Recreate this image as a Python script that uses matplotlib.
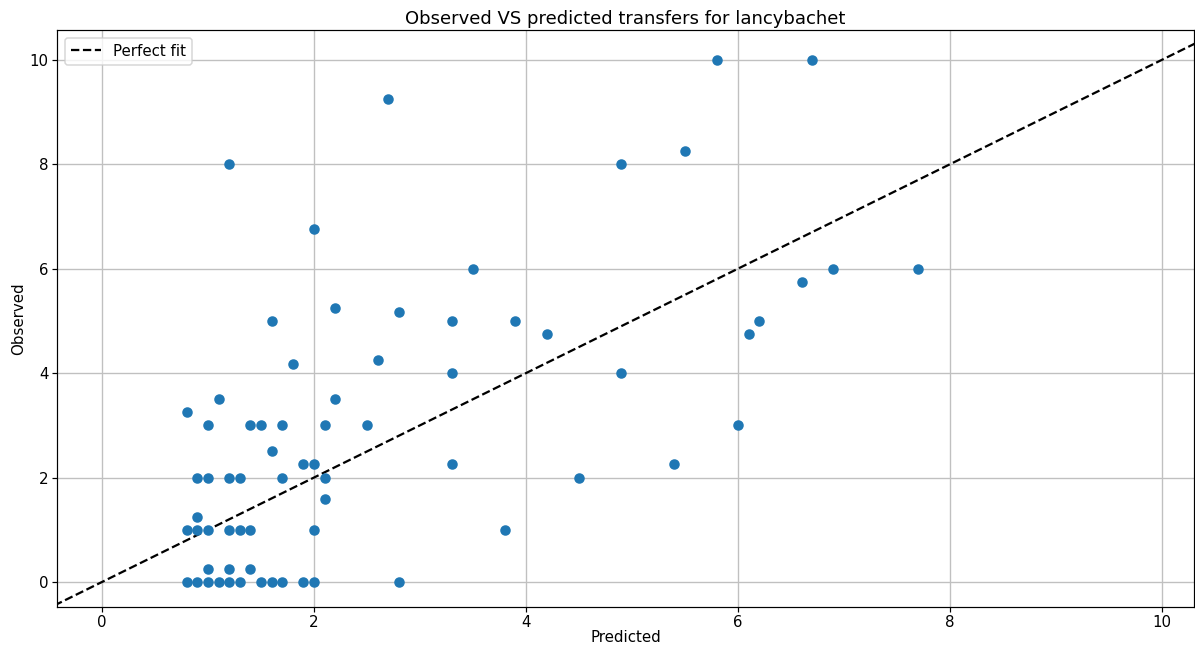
import matplotlib
matplotlib.use("Agg")
import matplotlib.pyplot as plt
import numpy as np

predicted = [0.8, 0.9, 1.0, 1.1, 1.2, 1.3, 1.5, 1.6, 1.7, 1.9, 2.0, 2.8,
             1.0, 1.2, 1.4,
             0.8, 0.9, 1.0, 1.2, 1.3, 1.4, 2.0, 3.8,
             0.9, 2.1,
             0.9, 1.0, 1.2, 1.3, 1.7, 2.1, 4.5,
             1.9, 2.0, 3.3, 5.4,
             1.6,
             1.0, 1.4, 1.5, 1.7, 2.1, 2.5, 6.0,
             0.8,
             1.1, 2.2,
             3.3, 4.9,
             1.8, 2.6,
             4.2, 6.1,
             1.6, 3.3, 3.9, 6.2,
             2.8, 2.2,
             6.6,
             3.5, 6.9, 7.7,
             2.0,
             1.2, 4.9,
             5.5,
             2.7,
             5.8, 6.7]
observed = [0, 0, 0, 0, 0, 0, 0, 0, 0, 0, 0, 0,
            0.25, 0.25, 0.25,
            1, 1, 1, 1, 1, 1, 1, 1,
            1.25, 1.58,
            2, 2, 2, 2, 2, 2, 2,
            2.25, 2.25, 2.25, 2.25,
            2.5,
            3, 3, 3, 3, 3, 3, 3,
            3.25,
            3.5, 3.5,
            4, 4,
            4.17, 4.25,
            4.75, 4.75,
            5, 5, 5, 5,
            5.17, 5.25,
            5.75,
            6, 6, 6,
            6.75,
            8, 8,
            8.25,
            9.25,
            10, 10]

DPI = 108
fig = plt.figure(figsize=(1195 / DPI, 647 / DPI), dpi=DPI)
ax = fig.add_axes([0.0477, 0.0618, 0.9513, 0.8918])

ax.scatter(predicted, observed, color="#1f77b4", zorder=3)
diag = np.array([-0.45, 10.35])
ax.plot(diag, diag, "k--", label="Perfect fit", zorder=2)

ax.set_xlim(-0.425, 10.30)
ax.set_ylim(-0.48, 10.57)
ax.set_xticks([0, 2, 4, 6, 8, 10])
ax.set_yticks([0, 2, 4, 6, 8, 10])
ax.tick_params(pad=2)
ax.grid(True, color="#c0c0c0", linewidth=0.9)
ax.set_axisbelow(True)

ax.set_xlabel("Predicted", labelpad=0)
ax.set_ylabel("Observed", labelpad=2.5)
ax.set_title("Observed VS predicted transfers for lancybachet", pad=4)
ax.legend(loc="upper left")

fig.savefig("out.png", dpi=DPI)
